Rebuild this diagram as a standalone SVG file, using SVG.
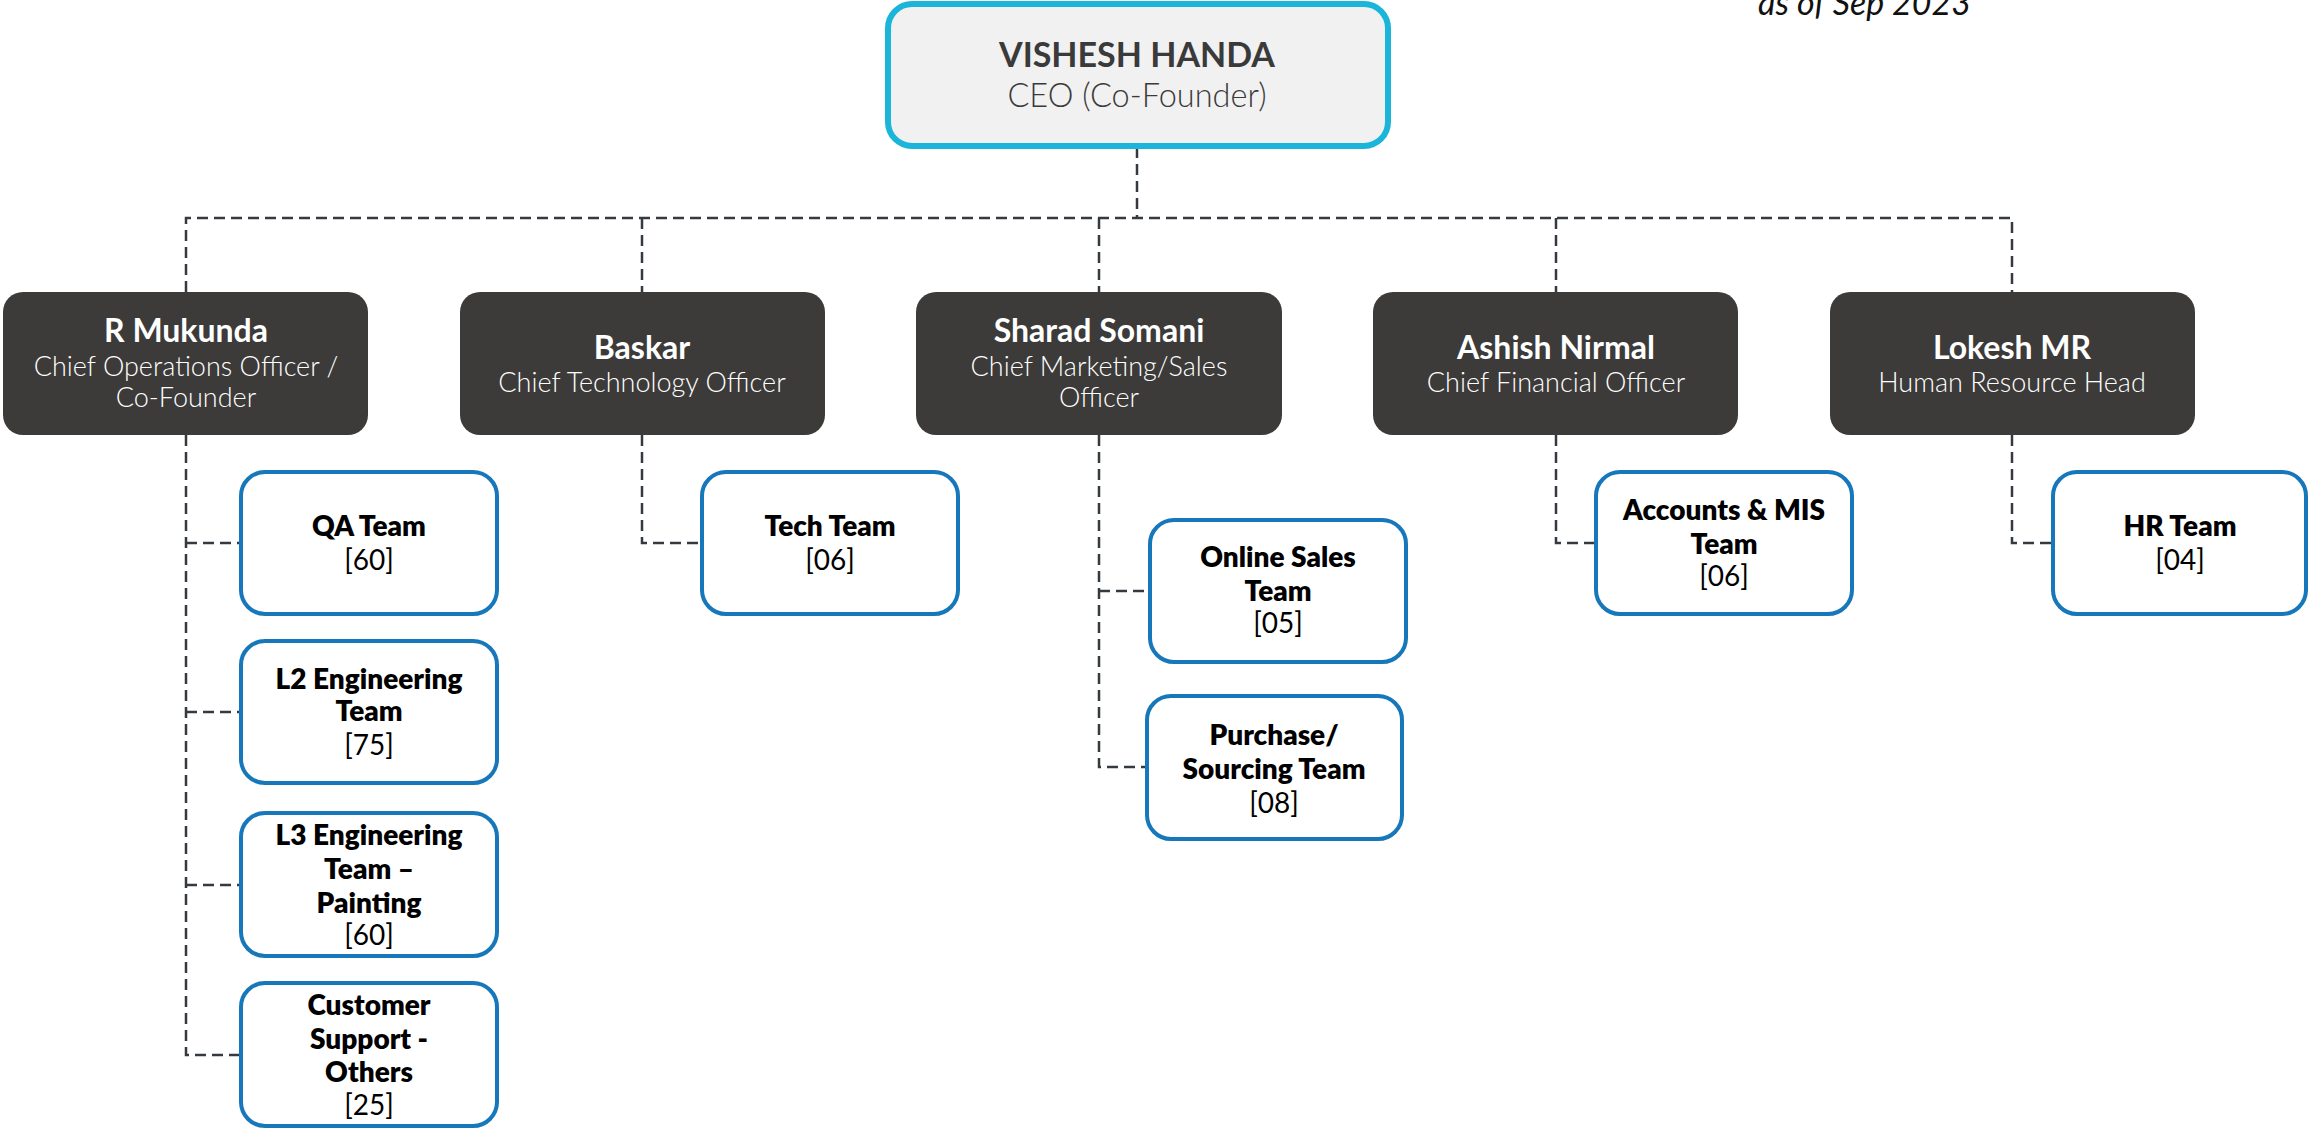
<svg xmlns="http://www.w3.org/2000/svg" width="2310" height="1129" viewBox="0 0 2310 1129">
<style>
.mgr{fill:#3c3b39}
.team{fill:#ffffff;stroke:#1677ba;stroke-width:4}
.nm{font-family:Lato,"Liberation Sans",sans-serif;font-weight:700;font-size:32px;fill:#ffffff;text-anchor:middle}
.sub{font-family:Lato,"Liberation Sans",sans-serif;font-weight:300;font-size:27px;fill:#ffffff;text-anchor:middle}
.tn{font-family:Lato,"Liberation Sans",sans-serif;font-weight:800;font-size:28px;fill:#000000;text-anchor:middle}
.tc{font-family:Lato,"Liberation Sans",sans-serif;font-weight:400;font-size:28px;fill:#000000;text-anchor:middle}
.conn{fill:none;stroke:#343a40;stroke-width:2.5;stroke-dasharray:11 6}
</style>
<rect width="2310" height="1129" fill="#ffffff"/>
<text x="1971" y="15" text-anchor="end" font-family="Lato,'Liberation Sans',sans-serif" font-style="italic" font-size="34" fill="#111111">as of Sep 2023</text>
<g id="connectors">
<path class="conn" d="M1137 147 V218"/>
<path class="conn" d="M186 292 V218 H2012 V292"/>
<path class="conn" d="M642 218 V292"/>
<path class="conn" d="M1099 218 V292"/>
<path class="conn" d="M1556 218 V292"/>
<path class="conn" d="M186 435 V1055 H240"/>
<path class="conn" d="M186 543 H240"/>
<path class="conn" d="M186 712 H240"/>
<path class="conn" d="M186 885 H240"/>
<path class="conn" d="M642 435 V543 H701"/>
<path class="conn" d="M1099 435 V767 H1146"/>
<path class="conn" d="M1099 591 H1149"/>
<path class="conn" d="M1556 435 V543 H1595"/>
<path class="conn" d="M2012 435 V543 H2052"/>
</g>
<g id="ceo">
<rect x="888" y="4" width="500" height="142" rx="24" fill="#f1f1f1" stroke="#1bb5da" stroke-width="6"/>
<text x="1137" y="67" text-anchor="middle" font-family="Lato,'Liberation Sans',sans-serif" font-weight="700" font-size="34" fill="#3a3a3a">VISHESH HANDA</text>
<text x="1137" y="107" text-anchor="middle" font-family="Lato,'Liberation Sans',sans-serif" font-weight="300" font-size="32.5" fill="#3a3a3a">CEO (Co-Founder)</text>
</g>
<g id="mukunda">
<rect class="mgr" x="3" y="292" width="365" height="143" rx="20"/>
<text class="nm" x="186" y="342">R Mukunda</text>
<text class="sub" x="186" y="376">Chief Operations Officer /</text>
<text class="sub" x="186" y="407">Co-Founder</text>
</g>
<g id="baskar">
<rect class="mgr" x="460" y="292" width="365" height="143" rx="20"/>
<text class="nm" x="642" y="359">Baskar</text>
<text class="sub" x="642" y="392">Chief Technology Officer</text>
</g>
<g id="sharad">
<rect class="mgr" x="916" y="292" width="366" height="143" rx="20"/>
<text class="nm" x="1099" y="342">Sharad Somani</text>
<text class="sub" x="1099" y="376">Chief Marketing/Sales</text>
<text class="sub" x="1099" y="407">Officer</text>
</g>
<g id="ashish">
<rect class="mgr" x="1373" y="292" width="365" height="143" rx="20"/>
<text class="nm" x="1556" y="359">Ashish Nirmal</text>
<text class="sub" x="1556" y="392">Chief Financial Officer</text>
</g>
<g id="lokesh">
<rect class="mgr" x="1830" y="292" width="365" height="143" rx="20"/>
<text class="nm" x="2012" y="359">Lokesh MR</text>
<text class="sub" x="2012" y="392">Human Resource Head</text>
</g>
<g id="qa">
<rect class="team" x="241" y="472" width="256" height="142" rx="24"/>
<text class="tn" x="369" y="536">QA Team</text>
<text class="tc" x="369" y="570">[60]</text>
</g>
<g id="l2">
<rect class="team" x="241" y="641" width="256" height="142" rx="24"/>
<text class="tn" x="369" y="689">L2 Engineering</text>
<text class="tn" x="369" y="721">Team</text>
<text class="tc" x="369" y="755">[75]</text>
</g>
<g id="l3">
<rect class="team" x="241" y="813" width="256" height="143" rx="24"/>
<text class="tn" x="369" y="845">L3 Engineering</text>
<text class="tn" x="369" y="879">Team –</text>
<text class="tn" x="369" y="913">Painting</text>
<text class="tc" x="369" y="945">[60]</text>
</g>
<g id="customer">
<rect class="team" x="241" y="983" width="256" height="143" rx="24"/>
<text class="tn" x="369" y="1015">Customer</text>
<text class="tn" x="369" y="1049">Support -</text>
<text class="tn" x="369" y="1082">Others</text>
<text class="tc" x="369" y="1115">[25]</text>
</g>
<g id="tech">
<rect class="team" x="702" y="472" width="256" height="142" rx="24"/>
<text class="tn" x="830" y="536">Tech Team</text>
<text class="tc" x="830" y="570">[06]</text>
</g>
<g id="online">
<rect class="team" x="1150" y="520" width="256" height="142" rx="24"/>
<text class="tn" x="1278" y="567">Online Sales</text>
<text class="tn" x="1278" y="601">Team</text>
<text class="tc" x="1278" y="633">[05]</text>
</g>
<g id="purchase">
<rect class="team" x="1147" y="696" width="255" height="143" rx="24"/>
<text class="tn" x="1274" y="745">Purchase/</text>
<text class="tn" x="1274" y="779">Sourcing Team</text>
<text class="tc" x="1274" y="813">[08]</text>
</g>
<g id="accounts">
<rect class="team" x="1596" y="472" width="256" height="142" rx="24"/>
<text class="tn" x="1724" y="520">Accounts &amp; MIS</text>
<text class="tn" x="1724" y="554">Team</text>
<text class="tc" x="1724" y="586">[06]</text>
</g>
<g id="hr">
<rect class="team" x="2053" y="472" width="253" height="142" rx="24"/>
<text class="tn" x="2180" y="536">HR Team</text>
<text class="tc" x="2180" y="570">[04]</text>
</g>
</svg>
